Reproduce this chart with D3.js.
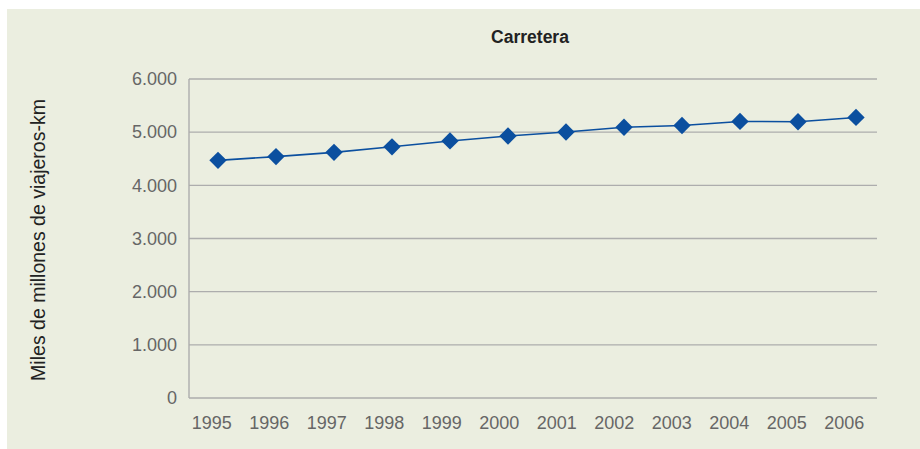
<!DOCTYPE html>
<html>
<head>
<meta charset="UTF-8"/>
<style>
  body { margin: 0; background: #fff; }
  svg { display: block; }
</style>
</head>
<body>
<script src="https://cdn.jsdelivr.net/npm/d3@7"></script>
<script>
// data
var years = ["1995","1996","1997","1998","1999","2000","2001","2002","2003","2004","2005","2006"];
var values = [4470, 4540, 4620, 4725, 4835, 4928, 5003, 5093, 5126, 5202, 5196, 5277];
var yTicks = [0, 1000, 2000, 3000, 4000, 5000, 6000];
var title = "Carretera";
var yTitle = "Miles de millones de viajeros-km";

var width = 920, height = 449;
var blue = "#0b4f9f";

var svg = d3.select("body").append("svg")
  .attr("width", width)
  .attr("height", height);

// panel background
svg.append("rect")
  .attr("x", 7).attr("y", 9)
  .attr("width", width - 7).attr("height", height - 9)
  .attr("fill", "#ebeee0");

var plotLeft = 189, plotRight = 877, plotTop = 79, plotBottom = 398;

var y = d3.scaleLinear().domain([0, 6000]).range([plotBottom, plotTop]);
var x = d3.scalePoint().domain(years).range([218, 856]);
var xLab = d3.scaleBand().domain(years).range([183, 873]);

var fmt = function(v) { return d3.format(",")(v).replace(/,/g, "."); };

// gridlines
svg.append("g").selectAll("line")
  .data(yTicks)
  .enter().append("line")
    .attr("x1", plotLeft).attr("x2", plotRight)
    .attr("y1", function(d) { return y(d); })
    .attr("y2", function(d) { return y(d); })
    .attr("stroke", "#adadad")
    .attr("stroke-width", 1.4);

// vertical axis line
svg.append("line")
  .attr("x1", plotLeft).attr("x2", plotLeft)
  .attr("y1", plotTop).attr("y2", plotBottom)
  .attr("stroke", "#adadad")
  .attr("stroke-width", 1.4);

// y tick labels
svg.append("g").selectAll("text")
  .data(yTicks)
  .enter().append("text")
    .attr("x", 177)
    .attr("y", function(d) { return y(d); })
    .attr("dy", "0.35em")
    .attr("text-anchor", "end")
    .attr("font-family", "Liberation Sans, Arial, sans-serif")
    .attr("font-size", "18px")
    .attr("fill", "#666")
    .text(fmt);

// x tick labels
var xAxis = svg.append("g")
  .attr("transform", "translate(0," + (plotBottom + 12) + ")")
  .call(d3.axisBottom(xLab).tickSize(0).tickPadding(6));
xAxis.select(".domain").remove();
xAxis.selectAll("text")
  .attr("font-family", "Liberation Sans, Arial, sans-serif")
  .attr("font-size", "18px")
  .attr("fill", "#666");

// line
var line = d3.line()
  .x(function(d, i) { return x(years[i]); })
  .y(function(d) { return y(d); });

svg.append("path")
  .datum(values)
  .attr("fill", "none")
  .attr("stroke", blue)
  .attr("stroke-width", 1.6)
  .attr("d", line);

// diamond markers
var diamond = d3.symbol().type(d3.symbolSquare).size(150);
svg.append("g").selectAll("path")
  .data(values)
  .enter().append("path")
    .attr("d", diamond)
    .attr("fill", blue)
    .attr("transform", function(d, i) {
      return "translate(" + x(years[i]) + "," + y(d) + ") rotate(45)";
    });

// title
svg.append("text")
  .attr("x", 530).attr("y", 43)
  .attr("text-anchor", "middle")
  .attr("font-family", "Liberation Sans, Arial, sans-serif")
  .attr("font-size", "17.5px")
  .attr("font-weight", "bold")
  .attr("fill", "#222")
  .text(title);

// y axis title
svg.append("text")
  .attr("transform", "translate(45," + 240 + ") rotate(-90)")
  .attr("text-anchor", "middle")
  .attr("font-family", "Liberation Sans, Arial, sans-serif")
  .attr("font-size", "19.5px")
  .attr("fill", "#222")
  .text(yTitle);
</script>
</body>
</html>
